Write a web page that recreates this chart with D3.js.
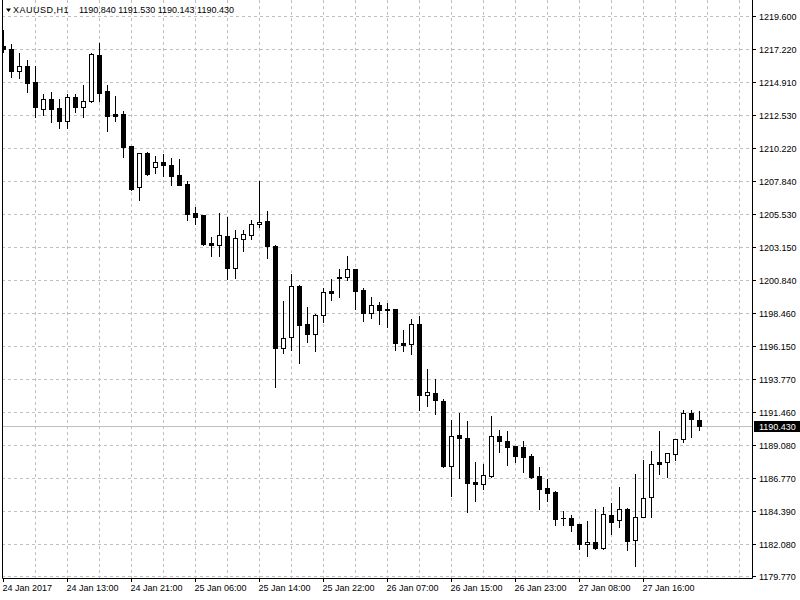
<!DOCTYPE html>
<html>
<head>
<meta charset="utf-8">
<script src="https://cdn.jsdelivr.net/npm/d3@7"></script>
<style>
  html, body { margin: 0; padding: 0; background: #ffffff; }
  svg { display: block; }
  text { font-family: "Liberation Sans", Arial, sans-serif; font-size: 9px; fill: #000; }
</style>
</head>
<body>
<svg id="chart" width="800" height="600"></svg>
<script>
// ---- data (XAUUSD, H1) ----
const symbolLabel = "XAUUSD,H1";
const opens = [1217.47,1217.23,1215.71,1216.04,1214.91,1213.01,1213.68,1213.04,1212.11,1213.86,
  1213.15,1213.53,1216.83,1214.27,1212.61,1212.61,1210.35,1207.42,1209.83,1208.88,
  1209.19,1209.00,1208.29,1207.67,1205.59,1205.45,1203.43,1203.33,1203.93,1201.70,
  1203.76,1204.04,1204.78,1205.02,1203.24,1195.96,1196.75,1200.40,1197.67,1197.00,
  1198.31,1200.02,1201.04,1201.01,1201.61,1200.11,1198.50,1199.02,1198.76,1198.74,
  1196.36,1196.25,1197.69,1192.67,1192.79,1192.22,1187.62,1189.80,1189.59,1186.46,
  1186.33,1186.90,1189.73,1189.37,1189.02,1188.92,1188.30,1186.88,1186.03,1185.75,
  1183.87,1183.90,1183.47,1182.02,1182.19,1181.78,1184.09,1183.75,1184.56,1182.31,
  1183.99,1185.37,1187.88,1187.86,1188.43,1189.49,1191.34,1190.840];
const highs = [1218.60,1217.61,1216.95,1216.47,1216.04,1214.05,1214.22,1213.68,1214.05,1214.05,
  1214.69,1216.95,1217.70,1214.67,1213.91,1212.86,1210.35,1209.85,1209.93,1209.64,
  1209.78,1209.48,1209.43,1207.84,1206.04,1205.45,1203.86,1205.59,1205.30,1204.38,
  1204.38,1205.09,1207.89,1205.73,1203.31,1199.33,1201.25,1200.47,1198.90,1198.40,
  1200.28,1200.92,1201.61,1202.53,1201.61,1200.28,1199.59,1199.24,1199.21,1198.76,
  1197.27,1198.05,1198.26,1194.49,1193.78,1192.36,1190.87,1191.36,1190.80,1187.88,
  1187.74,1191.15,1190.15,1190.08,1189.02,1189.37,1188.45,1187.52,1186.67,1185.82,
  1184.42,1184.11,1183.47,1183.70,1184.56,1184.70,1184.98,1186.10,1184.59,1187.03,
  1188.02,1188.66,1190.10,1188.55,1189.52,1191.58,1191.58,1191.530];
const lows = [1217.06,1215.28,1215.17,1214.22,1212.44,1212.56,1212.08,1211.61,1211.61,1212.79,
  1212.44,1213.50,1213.58,1211.44,1212.15,1209.59,1207.22,1206.51,1208.29,1208.46,
  1208.24,1207.58,1207.58,1205.09,1204.81,1203.31,1202.53,1202.53,1200.87,1200.97,
  1202.91,1203.76,1204.57,1202.41,1193.23,1195.65,1195.84,1194.90,1196.43,1195.77,
  1197.84,1199.42,1199.64,1200.80,1198.76,1197.91,1198.14,1197.69,1197.48,1195.84,
  1195.79,1195.58,1191.58,1191.86,1191.31,1187.54,1185.46,1186.76,1184.32,1185.10,
  1185.96,1186.83,1188.59,1187.69,1187.88,1187.19,1186.77,1184.56,1185.08,1183.42,
  1183.42,1182.99,1181.71,1181.21,1181.71,1181.71,1182.78,1183.28,1181.64,1180.50,
  1183.95,1183.99,1187.05,1186.83,1188.02,1189.32,1189.68,1190.143];
const closes = [1217.22,1215.71,1216.04,1214.86,1213.15,1213.68,1213.01,1212.15,1213.86,1213.15,
  1213.53,1216.90,1214.14,1212.51,1212.51,1210.30,1207.32,1209.83,1208.36,1209.19,
  1209.02,1208.24,1207.60,1205.54,1205.33,1203.38,1203.33,1204.00,1201.70,1203.79,
  1204.07,1204.78,1204.93,1203.24,1196.01,1196.68,1200.40,1197.64,1197.00,1198.31,
  1199.95,1199.92,1200.94,1201.61,1200.06,1198.50,1199.02,1198.71,1198.67,1196.36,
  1196.18,1197.69,1192.64,1192.86,1192.31,1187.59,1189.73,1189.61,1186.41,1186.33,
  1186.95,1189.73,1189.39,1188.97,1188.33,1188.26,1186.79,1185.98,1185.65,1183.85,
  1183.86,1183.42,1182.07,1182.19,1181.78,1184.16,1183.63,1184.51,1182.28,1183.95,
  1185.30,1187.72,1187.76,1188.52,1189.49,1191.34,1190.92,1190.430];

const priceTicks = [1219.600,1217.220,1214.910,1212.530,1210.220,1207.840,1205.530,1203.150,1200.840,
  1198.460,1196.150,1193.770,1191.460,1189.080,1186.770,1184.390,1182.080,1179.770];

const dateLabels = ["24 Jan 2017","24 Jan 13:00","24 Jan 21:00","25 Jan 06:00","25 Jan 14:00",
  "25 Jan 22:00","26 Jan 07:00","26 Jan 15:00","26 Jan 23:00","27 Jan 08:00","27 Jan 16:00"];
const dateLabelBars = [0,8,16,24,32,40,48,56,64,72,80];

// ---- layout ----
const W = 800, H = 600;
const plotLeft = 2, plotRight = 752, plotBottom = 578;
const svg = d3.select("#chart");

const candles = opens.map((o, i) => ({ i, o, h: highs[i], l: lows[i], c: closes[i] }));
const last = candles[candles.length - 1];

const x = d3.scaleLinear().domain([0, 87]).range([3, 699]);
const y = d3.scaleLinear().domain([1179.77, 1219.6]).range([576, 16]);

// clip
svg.append("defs").append("clipPath").attr("id", "plotclip")
  .append("rect").attr("x", plotLeft).attr("y", 0).attr("width", plotRight - plotLeft).attr("height", plotBottom);

const grid = svg.append("g").attr("clip-path", "url(#plotclip)");
// horizontal grid
grid.selectAll("line.hg").data(priceTicks).enter().append("line")
  .attr("x1", plotLeft).attr("x2", plotRight)
  .attr("y1", d => Math.round(y(d)) + 0.5).attr("y2", d => Math.round(y(d)) + 0.5)
  .attr("stroke", "#c0c0c0").attr("stroke-dasharray", "3,3");
// vertical grid every 4 bars
grid.selectAll("line.vg").data(d3.range(4, 93, 4)).enter().append("line")
  .attr("x1", d => Math.round(x(d)) + 0.5).attr("x2", d => Math.round(x(d)) + 0.5)
  .attr("y1", 0).attr("y2", plotBottom)
  .attr("stroke", "#c0c0c0").attr("stroke-dasharray", "3,3");

// current price line
const lastY = Math.round(y(last.c));
grid.append("line").attr("x1", plotLeft).attr("x2", plotRight)
  .attr("y1", lastY + 0.5).attr("y2", lastY + 0.5).attr("stroke", "#c0c0c0");

// candles
const cg = svg.append("g").attr("clip-path", "url(#plotclip)");
candles.forEach(d => {
  const cx = Math.round(x(d.i));
  const yh = Math.round(y(d.h)), yl = Math.round(y(d.l));
  const yo = Math.round(y(d.o)), yc = Math.round(y(d.c));
  const top = Math.min(yo, yc), bot = Math.max(yo, yc);
  cg.append("line").attr("x1", cx + 0.5).attr("x2", cx + 0.5)
    .attr("y1", yh).attr("y2", yl + 1).attr("stroke", "#000").attr("stroke-width", 1);
  if (d.c > d.o && bot > top) {
    cg.append("rect").attr("x", cx - 2 + 0.5).attr("y", top + 0.5)
      .attr("width", 4).attr("height", bot - top)
      .attr("fill", "#fff").attr("stroke", "#000").attr("stroke-width", 1);
  } else {
    cg.append("rect").attr("x", cx - 2).attr("y", top)
      .attr("width", 5).attr("height", Math.max(1, bot - top + 1))
      .attr("fill", "#000");
  }
});

// frame
svg.append("path")
  .attr("d", `M${plotLeft + 0.5},0 V${plotBottom + 0.5} H${plotRight + 0.5} V0`)
  .attr("fill", "none").attr("stroke", "#000").attr("stroke-width", 1);

// right price axis
const yAxis = d3.axisRight(y).tickValues(priceTicks).tickSize(4).tickPadding(3)
  .tickFormat(d3.format(".3f"));
const ya = svg.append("g").attr("transform", `translate(${plotRight},0)`).call(yAxis);
ya.select(".domain").remove();
ya.selectAll(".tick").attr("transform", d => `translate(0,${Math.round(y(d)) + 0.5})`);
ya.selectAll(".tick line").attr("stroke", "#000");
ya.selectAll(".tick text").attr("x", 7).attr("dy", "0.34em")
  .style("font-family", '"Liberation Sans", Arial, sans-serif').style("font-size", "9px").attr("fill", "#000");

// current price label
svg.append("rect").attr("x", 754).attr("y", lastY - 5).attr("width", 46).attr("height", 11).attr("fill", "#000");
svg.append("text").attr("x", 759).attr("y", lastY + 0.5).attr("dy", "0.34em")
  .style("fill", "#fff").text(d3.format(".3f")(last.c));

// bottom time axis
const xAxis = d3.axisBottom(x).tickValues(dateLabelBars).tickSize(4)
  .tickFormat((d, k) => dateLabels[k]);
const xa = svg.append("g").attr("transform", `translate(0,${plotBottom})`).call(xAxis);
xa.select(".domain").remove();
xa.selectAll(".tick line").attr("stroke", "#000");
xa.selectAll(".tick text").attr("text-anchor", "start").attr("x", -1).attr("y", 7)
  .style("font-family", '"Liberation Sans", Arial, sans-serif').style("font-size", "9px").attr("fill", "#000");

// header
svg.append("path").attr("d", "M6,8.5 L11,8.5 L8.5,12 Z").attr("fill", "#000");
svg.append("text").attr("x", 13).attr("y", 10).attr("dy", "0.34em").style("letter-spacing", "0.5px").text(symbolLabel);
svg.append("text").attr("x", 79).attr("y", 10).attr("dy", "0.34em")
  .text([last.o, last.h, last.l, last.c].map(v => d3.format(".3f")(v)).join(" "));
</script>
</body>
</html>
